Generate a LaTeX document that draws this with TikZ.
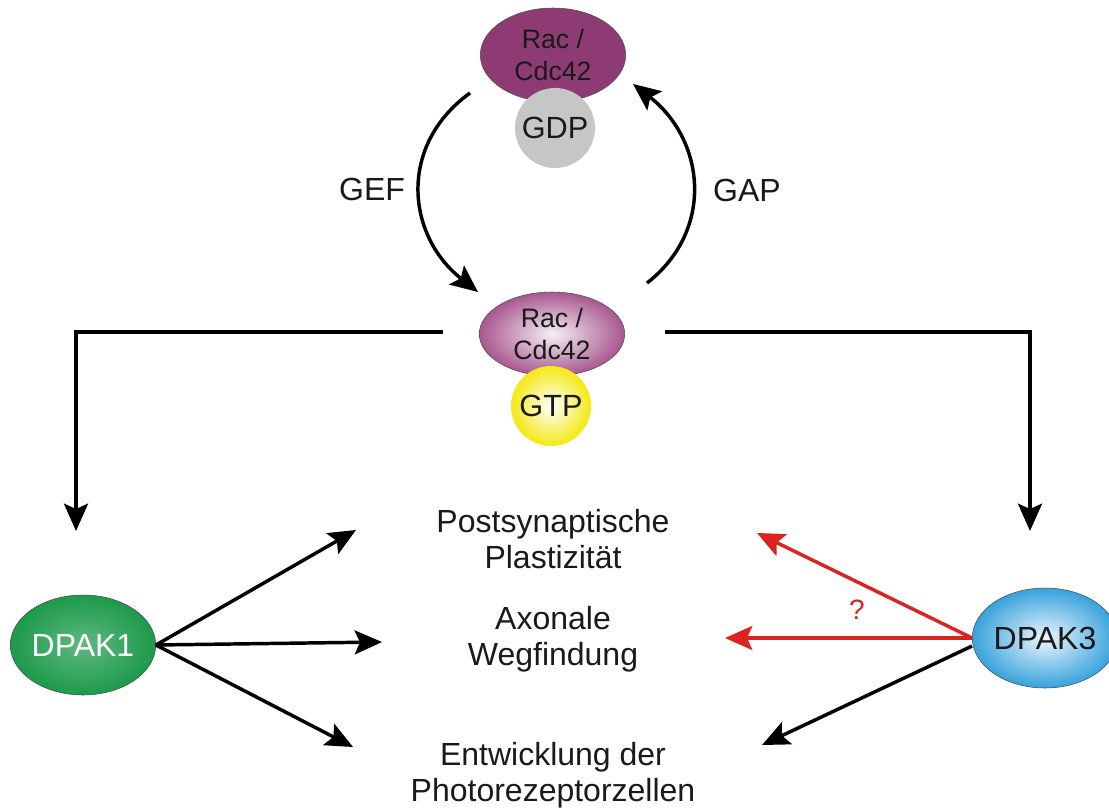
\documentclass[tikz,border=0pt]{standalone}
\usepackage{fontspec}
\setmainfont{Liberation Sans}
\usetikzlibrary{arrows.meta,shapes.geometric}
\definecolor{racdark}{HTML}{8E3B73}
\definecolor{racmid}{HTML}{A8578F}
\definecolor{gdpgrey}{HTML}{C6C6C6}
\definecolor{gtpyel}{HTML}{F4E812}
\definecolor{pakgreen}{HTML}{1C9A4A}
\definecolor{pakblue}{HTML}{37A2DC}
\definecolor{arrred}{HTML}{D92420}
\definecolor{txt}{HTML}{1A1A1A}

\begin{document}
\begin{tikzpicture}[x=0.75pt,y=-0.75pt,
	font=\fontsize{24}{27}\selectfont, text=txt,
	blob/.style={ellipse, draw=black!70, line width=0.4pt, inner sep=0pt,
		minimum width=109pt, align=center},
	nuc/.style={circle, inner sep=0pt, minimum size=60pt, font=\fontsize{23}{27}\selectfont},
	link/.style={line width=2.6pt, -{Stealth[length=20.5pt,width=18pt,inset=4pt]}},
	]
	%\draw[help lines] (0,0) grid[step=50] (1109,810);
	\useasboundingbox (0,0) rectangle (1109,810);

	% Rac/Cdc42 with GDP
	\node[blob, fill=racdark, minimum height=70.5pt, font=\fontsize{20}{24}\selectfont]
		(racgdp) at (553,55) {Rac /\\Cdc42};
	\node[nuc, fill=gdpgrey] (gdp) at (555,128) {GDP};

	% Rac/Cdc42 with GTP
	\node[blob, shading=radial, inner color=racdark!8, outer color=racmid,
		minimum height=63pt, font=\fontsize{20}{24}\selectfont]
		(racgtp) at (552,334) {Rac /\\Cdc42};
	\node[nuc, shading=radial, inner color=white, outer color=gtpyel] (gtp) at (551,406) {GTP};

	% the two kinases
	\node[blob, shading=radial, inner color=pakgreen!70!white, outer color=pakgreen,
		minimum height=75pt, text=white] (dpak1) at (83,645) {DPAK1};
	\node[blob, shading=radial, inner color=pakblue!10!white, outer color=pakblue,
		minimum height=75pt] (dpak3) at (1045,638) {DPAK3};

	% processes
	\node[align=center] (plast) at (553,539) {Postsynaptische\\Plastizität};
	\node[align=center] (axon) at (553,639) {Axonale\\Wegfindung};
	\node[align=center] (photo) at (553,775) {Entwicklung der\\Photorezeptorzellen};

	\node (gef) at (372,189) {GEF};
	\node (gap) at (747,190) {GAP};
	\node[text=arrred, font=\fontsize{21}{24}\selectfont] (q) at (857,610) {?};

	% end points of the connectors
	\coordinate (gefa) at (470,93);
	\coordinate (gefb) at (478,292);
	\coordinate (gapa) at (647,283);
	\coordinate (gapb) at (633,84);
	\coordinate (la) at (443,332);
	\coordinate (lb) at (76,332);
	\coordinate (lc) at (76,531);
	\coordinate (ra) at (665,332);
	\coordinate (rb) at (1030,332);
	\coordinate (rc) at (1030,531);

	% GDP/GTP cycle
	\draw[link] (gefa) .. controls (398,145) and (406,235) .. (gefb);
	\draw[link] (gapa) .. controls (715,230) and (705,140) .. (gapb);

	\draw[link] (la) -- (lb) -- (lc);
	\draw[link] (ra) -- (rb) -- (rc);

	% effects of DPAK1 and DPAK3
	\draw[link] (dpak1.east) -- (356,530);
	\draw[link] (dpak1.east) -- (382,642);
	\draw[link] (dpak1.east) -- (353,747);

	\draw[link, arrred] (dpak3.west) -- (757,533);
	\draw[link, arrred] (dpak3.west) -- (725,638);
	\draw[link] ([yshift=-6pt]dpak3.west) -- (762,745);
\end{tikzpicture}
\end{document}
